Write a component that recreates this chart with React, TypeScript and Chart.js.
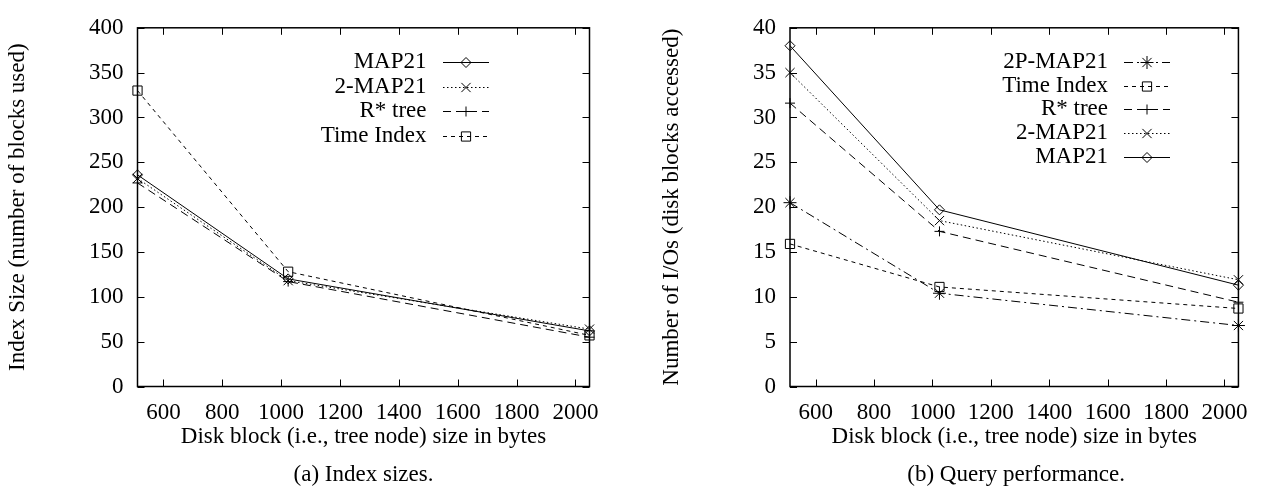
import { useEffect, useRef } from 'react';
import { Chart, registerables } from 'chart.js';

Chart.register(...registerables);

// ---------- data ----------
const blockSizes = [512, 1024, 2048];
const xTickValues = [600, 800, 1000, 1200, 1400, 1600, 1800, 2000];

// (a) index sizes (number of blocks used)
const sizeMAP21 = [236, 120, 62];
const size2MAP21 = [232, 118, 64];
const sizeRStar = [227, 117, 55];
const sizeTimeIndex = [330, 128, 57];

// (b) query performance (disk blocks accessed)
const ioMAP21 = [38, 19.7, 11.3];
const io2MAP21 = [35, 18.5, 11.9];
const ioRStar = [31.6, 17.3, 9.4];
const ioTimeIndex = [15.9, 11.1, 8.7];
const io2PMAP21 = [20.5, 10.4, 6.8];

const leftSeriesNames = ['MAP21', '2-MAP21', 'R* tree', 'Time Index'];
const leftSeriesValues = [sizeMAP21, size2MAP21, sizeRStar, sizeTimeIndex];
const rightSeriesNames = ['2P-MAP21', 'Time Index', 'R* tree', '2-MAP21', 'MAP21'];
const rightSeriesValues = [io2PMAP21, ioTimeIndex, ioRStar, io2MAP21, ioMAP21];

// ---------- styles ----------
type Sty = { dash: number[]; point: string; r: number };
const STYLES: Record<string, Sty> = {
  MAP21: { dash: [], point: 'rectRot', r: 5 },
  '2-MAP21': { dash: [1.5, 2.5], point: 'crossRot', r: 6.5 },
  'R* tree': { dash: [8, 5], point: 'cross', r: 5 },
  'Time Index': { dash: [4, 4], point: 'rect', r: 6.5 },
  '2P-MAP21': { dash: [9, 4, 2, 4], point: 'star', r: 6.5 },
};

const FONT = 'Liberation Serif';
const FS = 23;

function drawMarker(ctx: CanvasRenderingContext2D, kind: string, x: number, y: number, r: number) {
  ctx.save();
  ctx.setLineDash([]);
  ctx.lineWidth = 1;
  ctx.strokeStyle = '#000';
  ctx.beginPath();
  const d = r * Math.SQRT1_2;
  if (kind === 'rectRot') {
    ctx.moveTo(x, y - r);
    ctx.lineTo(x + r, y);
    ctx.lineTo(x, y + r);
    ctx.lineTo(x - r, y);
    ctx.closePath();
  } else if (kind === 'rect') {
    ctx.rect(x - d, y - d, 2 * d, 2 * d);
  } else {
    if (kind === 'cross' || kind === 'star') {
      ctx.moveTo(x, y - r);
      ctx.lineTo(x, y + r);
      ctx.moveTo(x - r, y);
      ctx.lineTo(x + r, y);
    }
    if (kind === 'crossRot' || kind === 'star') {
      ctx.moveTo(x - d, y - d);
      ctx.lineTo(x + d, y + d);
      ctx.moveTo(x + d, y - d);
      ctx.lineTo(x - d, y + d);
    }
  }
  ctx.stroke();
  ctx.restore();
}

function makeFrame(yTicks: number[]) {
  return {
    id: 'frame',
    afterDraw(chart: any) {
      const { ctx, chartArea: a, scales } = chart;
      ctx.save();
      ctx.strokeStyle = '#000';
      ctx.setLineDash([]);
      ctx.lineWidth = 1.5;
      ctx.strokeRect(a.left, a.top, a.right - a.left, a.bottom - a.top);
      ctx.lineWidth = 1;
      const L = 7;
      ctx.beginPath();
      for (const v of xTickValues) {
        const px = Math.round(scales.x.getPixelForValue(v)) + 0.5;
        ctx.moveTo(px, a.bottom);
        ctx.lineTo(px, a.bottom - L);
        ctx.moveTo(px, a.top);
        ctx.lineTo(px, a.top + L);
      }
      for (const v of yTicks) {
        const py = Math.round(scales.y.getPixelForValue(v)) + 0.5;
        ctx.moveTo(a.left, py);
        ctx.lineTo(a.left + L, py);
        ctx.moveTo(a.right, py);
        ctx.lineTo(a.right - L, py);
      }
      ctx.stroke();
      ctx.restore();
    },
  };
}

function makeLegend(textRight: number, x1: number, x2: number, y0: number, dy: number) {
  return {
    id: 'gpLegend',
    afterDraw(chart: any) {
      const { ctx } = chart;
      ctx.save();
      ctx.font = `${FS}px "${FONT}"`;
      ctx.fillStyle = '#000';
      ctx.textAlign = 'right';
      ctx.textBaseline = 'middle';
      chart.data.datasets.forEach((ds: any, i: number) => {
        const y = y0 + i * dy;
        ctx.fillText(ds.label, textRight, y);
        const st = STYLES[ds.label];
        ctx.save();
        ctx.lineWidth = 1;
        ctx.strokeStyle = '#000';
        ctx.setLineDash(st.dash);
        ctx.beginPath();
        ctx.moveTo(x1, Math.round(y) + 0.5);
        ctx.lineTo(x2, Math.round(y) + 0.5);
        ctx.stroke();
        ctx.restore();
        drawMarker(ctx, st.point, (x1 + x2) / 2, Math.round(y) + 0.5, st.r);
      });
      ctx.restore();
    },
  };
}

function buildDatasets(names: string[], values: number[][]) {
  return names.map((name, i) => {
    const st = STYLES[name];
    return {
      label: name,
      data: blockSizes.map((x, j) => ({ x, y: values[i][j] })),
      borderColor: '#000',
      borderWidth: 1,
      borderDash: st.dash,
      pointStyle: st.point,
      pointRadius: st.r,
      pointBorderWidth: 1,
      pointBorderColor: '#000',
      pointBackgroundColor: 'rgba(0,0,0,0)',
      fill: false,
      tension: 0,
      clip: false,
    };
  });
}

type Cfg = {
  names: string[];
  values: number[][];
  yMax: number;
  yStep: number;
  yTitle: string;
  width: number;
  axisWidth: number;
  padRight: number;
  yTitlePad: number;
  legend: [number, number, number, number, number];
};

function GPChart({ cfg }: { cfg: Cfg }) {
  const ref = useRef<HTMLCanvasElement | null>(null);
  useEffect(() => {
    if (!ref.current) return;
    const yTicks: number[] = [];
    for (let v = 0; v <= cfg.yMax + 1e-9; v += cfg.yStep) yTicks.push(v);
    const tickFont = { family: FONT, size: FS };
    const chart = new Chart(ref.current, {
      type: 'line',
      data: { datasets: buildDatasets(cfg.names, cfg.values) as any },
      options: {
        animation: false,
        responsive: false,
        devicePixelRatio: 1,
        layout: { padding: { top: 16, right: cfg.padRight, left: 0, bottom: 0 } },
        plugins: { legend: { display: false }, tooltip: { enabled: false }, title: { display: false } },
        scales: {
          x: {
            type: 'linear',
            min: 512,
            max: 2048,
            afterBuildTicks: (s: any) => {
              s.ticks = xTickValues.map((v) => ({ value: v }));
            },
            afterFit: (s: any) => {
              s.height = 101.5;
            },
            grid: { display: false, drawTicks: false },
            border: { display: false },
            ticks: {
              autoSkip: false,
              maxRotation: 0,
              padding: 13,
              color: '#000',
              font: tickFont,
              callback: (v: any) => String(v),
            },
            title: {
              display: true,
              text: 'Disk block (i.e., tree node) size in bytes',
              color: '#000',
              font: tickFont,
              padding: { top: 0, bottom: 37 },
            },
          },
          y: {
            type: 'linear',
            min: 0,
            max: cfg.yMax,
            afterFit: (s: any) => {
              s.width = cfg.axisWidth;
            },
            grid: { display: false, drawTicks: false },
            border: { display: false },
            ticks: {
              stepSize: cfg.yStep,
              padding: 14,
              color: '#000',
              font: tickFont,
              callback: (v: any) => String(v),
            },
            title: {
              display: true,
              text: cfg.yTitle,
              color: '#000',
              font: tickFont,
              padding: { top: cfg.yTitlePad, bottom: 0 },
            },
          },
        },
      },
      plugins: [makeFrame(yTicks), makeLegend(...cfg.legend)],
    });
    return () => chart.destroy();
  }, [cfg]);
  return <canvas ref={ref} width={cfg.width} height={488} style={{ width: cfg.width, height: 488, display: 'block' }} />;
}

const leftCfg: Cfg = {
  names: leftSeriesNames,
  values: leftSeriesValues,
  yMax: 400,
  yStep: 50,
  yTitle: 'Index Size (number of blocks used)',
  width: 630,
  axisWidth: 137.5,
  padRight: 40.5,
  yTitlePad: 4,
  legend: [426.5, 443, 489, 62, 24.5],
};

const rightCfg: Cfg = {
  names: rightSeriesNames,
  values: rightSeriesValues,
  yMax: 40,
  yStep: 5,
  yTitle: 'Number of I/Os (disk blocks accessed)',
  width: 631,
  axisWidth: 160,
  padRight: 18.7,
  yTitlePad: 28,
  legend: [478, 494, 540, 62, 23.7],
};

const captionStyle: React.CSSProperties = {
  position: 'absolute',
  top: 459.5,
  fontFamily: FONT,
  fontSize: FS,
  lineHeight: '27px',
  textAlign: 'center',
  color: '#000',
  whiteSpace: 'nowrap',
};

export default function App() {
  return (
    <div style={{ position: 'absolute', left: 0, top: 0, width: 1261, height: 488, background: '#fff', overflow: 'hidden' }}>
      <div style={{ position: 'absolute', left: 0, top: 0 }}>
        <GPChart cfg={leftCfg} />
      </div>
      <div style={{ position: 'absolute', left: 630, top: 0 }}>
        <GPChart cfg={rightCfg} />
      </div>
      <div style={{ ...captionStyle, left: 137.5, width: 452 }}>(a) Index sizes.</div>
      <div style={{ ...captionStyle, left: 790, width: 452.3 }}>(b) Query performance.</div>
    </div>
  );
}
